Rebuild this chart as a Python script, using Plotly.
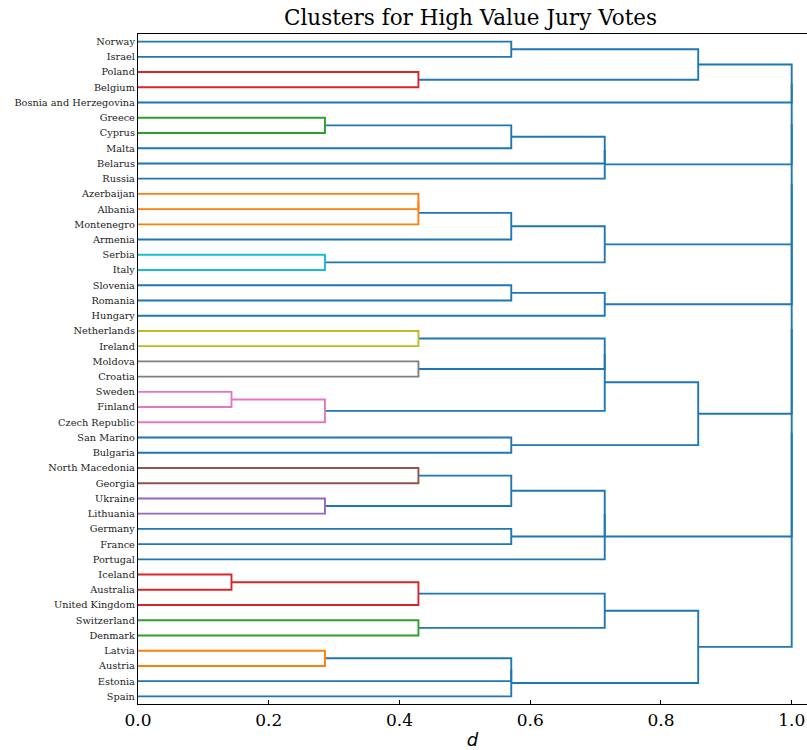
import plotly.graph_objects as go

# ---- data ----
leaf_labels = [
    "Norway", "Israel", "Poland", "Belgium", "Bosnia and Herzegovina",
    "Greece", "Cyprus", "Malta", "Belarus", "Russia",
    "Azerbaijan", "Albania", "Montenegro", "Armenia", "Serbia", "Italy",
    "Slovenia", "Romania", "Hungary",
    "Netherlands", "Ireland", "Moldova", "Croatia", "Sweden", "Finland",
    "Czech Republic", "San Marino", "Bulgaria",
    "North Macedonia", "Georgia", "Ukraine", "Lithuania", "Germany", "France",
    "Portugal", "Iceland", "Australia", "United Kingdom", "Switzerland",
    "Denmark", "Latvia", "Austria", "Estonia", "Spain",
]

# merges: children (leaf name or merge index "mN"), height d, cluster id (0 = above threshold)
merge_left = [
    "Norway", "Poland", "m0", "Greece", "m3", "m4", "m5",
    "Azerbaijan", "m7", "m8", "Serbia", "m9", "Slovenia", "m12",
    "Netherlands", "Moldova", "Sweden", "m16", "m14", "m18", "San Marino", "m19",
    "North Macedonia", "Ukraine", "m22", "Germany", "m24", "m26",
    "Iceland", "m28", "Switzerland", "m29", "Latvia", "m32", "m33", "m31",
    "m2", "m36", "m37", "m38", "m39", "m40", "m41",
]
merge_right = [
    "Israel", "Belgium", "m1", "Cyprus", "Malta", "Belarus", "Russia",
    "Albania", "Montenegro", "Armenia", "Italy", "m10", "Romania", "Hungary",
    "Ireland", "Croatia", "Finland", "Czech Republic", "m15", "m17", "Bulgaria", "m20",
    "Georgia", "Lithuania", "m23", "France", "m25", "Portugal",
    "Australia", "United Kingdom", "Denmark", "m30", "Austria", "Estonia", "Spain", "m34",
    "Bosnia and Herzegovina", "m6", "m11", "m13", "m21", "m27", "m35",
]
merge_height = [
    0.571, 0.429, 0.857, 0.286, 0.571, 0.714, 0.714,
    0.429, 0.429, 0.571, 0.286, 0.714, 0.571, 0.714,
    0.429, 0.429, 0.143, 0.286, 0.714, 0.714, 0.571, 0.857,
    0.429, 0.286, 0.571, 0.571, 0.714, 0.714,
    0.143, 0.429, 0.429, 0.714, 0.286, 0.571, 0.571, 0.857,
    1.0, 1.0, 1.0, 1.0, 1.0, 1.0, 1.0,
]
merge_cluster = [
    0, 3, 0, 2, 0, 0, 0,
    1, 1, 0, 9, 0, 0, 0,
    8, 7, 6, 6, 0, 0, 0, 0,
    5, 4, 0, 0, 0, 0,
    3, 3, 2, 0, 1, 0, 0, 0,
    0, 0, 0, 0, 0, 0, 0,
]

x_ticks = [0.0, 0.2, 0.4, 0.6, 0.8, 1.0]

# ---- style ----
palette = ["#1f77b4", "#ff7f0e", "#2ca02c", "#d62728", "#9467bd",
           "#8c564b", "#e377c2", "#7f7f7f", "#bcbd22", "#17becf"]

# leaf positions, scipy-style (5, 15, 25, ...)
pos = {name: 5 + 10 * i for i, name in enumerate(leaf_labels)}
hgt = {name: 0.0 for name in leaf_labels}

segs = {}
for k, (a, b, h, c) in enumerate(zip(merge_left, merge_right, merge_height, merge_cluster)):
    ya, yb = pos[a], pos[b]
    xs = [hgt[a], h, h, hgt[b], None]
    ys = [ya, ya, yb, yb, None]
    segs.setdefault(c, ([], []))
    segs[c][0].extend(xs)
    segs[c][1].extend(ys)
    pos["m%d" % k] = (ya + yb) / 2
    hgt["m%d" % k] = h

fig = go.Figure()
for c in sorted(segs):
    xs, ys = segs[c]
    fig.add_trace(go.Scatter(x=xs, y=ys, mode="lines",
                             line=dict(color=palette[c], width=1.9),
                             hoverinfo="skip", showlegend=False))

n = len(leaf_labels)
fig.update_layout(
    width=807, height=750,
    margin=dict(l=137.7, r=0, t=33.5, b=45.5, autoexpand=False),
    paper_bgcolor="white", plot_bgcolor="white",
    title=dict(text="Clusters for High Value Jury Votes",
               font=dict(family="DejaVu Serif", size=21.5, color="black"),
               x=0.497, xanchor="center", xref="paper",
               y=0.9765, yanchor="middle", yref="container"),
    xaxis=dict(range=[0, 1.0234], tickvals=x_ticks,
               ticktext=["%.1f" % v for v in x_ticks],
               ticks="inside", ticklen=4, tickwidth=1, tickcolor="black",
               showline=True, linecolor="black", linewidth=1.3, mirror=True,
               showgrid=False, zeroline=False, automargin=False,
               tickfont=dict(family="DejaVu Serif", size=17, color="black"),
               title=dict(text="<i>d</i>", standoff=4,
                          font=dict(family="DejaVu Sans", size=18, color="black"))),
    yaxis=dict(range=[10 * n, 0], tickvals=[5 + 10 * i for i in range(n)],
               ticktext=leaf_labels, ticks="",
               showline=True, linecolor="black", linewidth=1.3,
               showgrid=False, zeroline=False, automargin=False,
               tickfont=dict(family="DejaVu Serif", size=9.75, color="#222222")),
)

# remove the page's default body margin so the figure fills the window exactly
fig.write_html("out.html",
               config={"displayModeBar": False},
               post_script="document.body.style.margin='0';document.body.style.overflow='hidden';")
